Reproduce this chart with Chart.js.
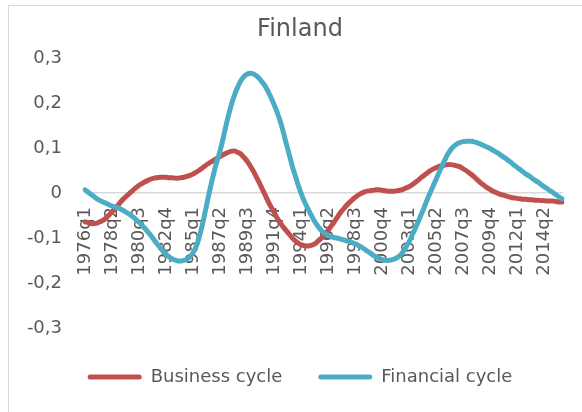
<!DOCTYPE html>
<html><head><meta charset="utf-8">
<script src="https://cdn.jsdelivr.net/npm/chart.js@4.4.0/dist/chart.umd.min.js"></script>
<style>
html,body{margin:0;padding:0;background:#fff;overflow:hidden;width:582px;height:412px;}
#frame{position:absolute;left:8px;top:5px;width:640px;height:460px;border:1px solid #d9d9d9;box-sizing:border-box;}
#wrap{position:absolute;left:0;top:0;width:582px;height:412px;}
</style></head><body>
<div id="frame"></div>
<div id="wrap"><canvas id="c" width="582" height="412"></canvas></div>
<script>
const categories = [];
for (let yr = 1976; yr <= 2015; yr++) { for (let k = 1; k <= 4; k++) categories.push(yr + 'q' + k); }

const tickLabels = ['1976q1','1978q2','1980q3','1982q4','1985q1','1987q2','1989q3','1991q4','1994q1','1996q2','1998q3','2000q4','2003q1','2005q2','2007q3','2009q4','2012q1','2014q2'];
const yTicks = [-0.3, -0.2, -0.1, 0, 0.1, 0.2, 0.3];

const businessCycle = [
-0.064,-0.066,-0.068,-0.068,-0.067,-0.064,-0.061,-0.056,-0.049,-0.042,
-0.034,-0.027,-0.019,-0.012,-0.006,0.000,0.006,0.012,0.017,0.021,
0.025,0.028,0.031,0.033,0.034,0.035,0.035,0.035,0.034,0.034,
0.033,0.033,0.034,0.035,0.037,0.039,0.042,0.046,0.050,0.055,
0.060,0.065,0.069,0.073,0.077,0.081,0.085,0.088,0.091,0.093,
0.093,0.090,0.086,0.079,0.071,0.061,0.050,0.037,0.024,0.010,
-0.004,-0.018,-0.031,-0.043,-0.055,-0.065,-0.075,-0.083,-0.091,-0.099,
-0.106,-0.111,-0.115,-0.117,-0.118,-0.117,-0.115,-0.111,-0.105,-0.099,
-0.091,-0.083,-0.074,-0.065,-0.055,-0.045,-0.037,-0.029,-0.022,-0.016,
-0.010,-0.005,-0.001,0.002,0.004,0.005,0.006,0.007,0.007,0.006,
0.005,0.004,0.004,0.004,0.005,0.006,0.008,0.011,0.014,0.018,
0.023,0.028,0.034,0.039,0.044,0.049,0.053,0.056,0.059,0.061,
0.062,0.063,0.063,0.062,0.060,0.058,0.054,0.050,0.045,0.040,
0.034,0.028,0.022,0.017,0.012,0.008,0.004,0.001,-0.002,-0.004,
-0.006,-0.008,-0.010,-0.011,-0.012,-0.013,-0.014,-0.014,-0.015,-0.015,
-0.016,-0.016,-0.017,-0.017,-0.018,-0.018,-0.018,-0.019,-0.020,-0.020
];

const financialCycle = [
0.007,0.002,-0.003,-0.008,-0.013,-0.017,-0.020,-0.023,-0.026,-0.029,
-0.031,-0.033,-0.036,-0.040,-0.044,-0.048,-0.053,-0.059,-0.065,-0.072,
-0.079,-0.087,-0.095,-0.104,-0.113,-0.121,-0.129,-0.136,-0.142,-0.146,
-0.149,-0.151,-0.151,-0.150,-0.147,-0.142,-0.133,-0.120,-0.100,-0.074,
-0.044,-0.012,0.018,0.046,0.071,0.093,0.120,0.150,0.177,0.201,
0.221,0.237,0.250,0.259,0.264,0.266,0.265,0.261,0.255,0.247,
0.238,0.226,0.212,0.197,0.180,0.161,0.138,0.112,0.087,0.062,
0.040,0.019,0.000,-0.017,-0.031,-0.044,-0.057,-0.068,-0.077,-0.085,
-0.090,-0.094,-0.097,-0.099,-0.100,-0.102,-0.104,-0.106,-0.108,-0.110,
-0.113,-0.116,-0.120,-0.124,-0.129,-0.133,-0.138,-0.142,-0.145,-0.148,
-0.149,-0.150,-0.149,-0.147,-0.144,-0.139,-0.131,-0.120,-0.109,-0.094,
-0.080,-0.065,-0.049,-0.033,-0.016,0.000,0.015,0.030,0.045,0.060,
0.074,0.087,0.097,0.104,0.109,0.112,0.114,0.115,0.115,0.115,
0.113,0.111,0.108,0.105,0.102,0.099,0.095,0.091,0.087,0.082,
0.078,0.073,0.068,0.062,0.057,0.052,0.047,0.042,0.038,0.033,
0.028,0.024,0.019,0.014,0.010,0.005,0.001,-0.004,-0.009,-0.013
];

const FONT = 'DejaVu Sans';
const TXT = '#595959';

new Chart(document.getElementById('c'), {
  type: 'line',
  data: {
    labels: categories,
    datasets: [
      { label: 'Business cycle', data: businessCycle, borderColor: '#C0504D', backgroundColor: '#C0504D',
        borderWidth: 5, pointRadius: 0, tension: 0.4, borderCapStyle: 'round', borderJoinStyle: 'round', fill: false, order: 1 },
      { label: 'Financial cycle', data: financialCycle, borderColor: '#4BACC6', backgroundColor: '#4BACC6',
        borderWidth: 5, pointRadius: 0, tension: 0.4, borderCapStyle: 'round', borderJoinStyle: 'round', fill: false, order: 0 }
    ]
  },
  options: {
    responsive: false,
    animation: false,
    devicePixelRatio: 1,
    layout: { padding: { left: 18, right: 0, top: 0, bottom: 16 } },
    plugins: {
      title: { display: true, text: 'Finland', color: TXT, font: { family: FONT, size: 24, weight: 'normal' },
        padding: { top: 15.6, bottom: 13.6 } },
      legend: { position: 'bottom',
        labels: { boxWidth: 54, boxHeight: 5, padding: 36, color: TXT, font: { family: FONT, size: 18 },
          useBorderRadius: true, borderRadius: 2.5,
          generateLabels: (chart) => chart.data.datasets.map((d, i) => ({
            text: d.label, fillStyle: d.borderColor, strokeStyle: d.borderColor, lineWidth: 0,
            datasetIndex: i, hidden: false, fontColor: TXT, borderRadius: 2.5 })) } },
      tooltip: { enabled: false }
    },
    scales: {
      x: {
        type: 'category',
        position: { y: 0 },
        grid: { display: false, drawTicks: false, tickLength: 0 },
        border: { display: true, color: '#d9d9d9', width: 1.5 },
        afterFit: (s) => { s.paddingLeft = 0; s.paddingRight = 0; },
        ticks: { autoSkip: false, maxRotation: 90, minRotation: 90, padding: 14, color: TXT,
          font: { family: FONT, size: 18 },
          callback: function (value) { const l = this.getLabelForValue(value); return tickLabels.includes(l) ? l : ''; } }
      },
      y: {
        position: 'left',
        min: -0.309, max: 0.3,
        afterBuildTicks: (s) => { s.ticks = yTicks.map(v => ({ value: v })); },
        afterFit: (s) => { s.width = 67; },
        grid: { display: false, drawTicks: false },
        border: { display: false },
        ticks: { padding: 23, color: TXT, font: { family: FONT, size: 18 },
          callback: (v) => (v === 0 ? '0' : v.toFixed(1).replace('.', ',')) }
      },
      yR: {
        position: 'right',
        display: true,
        grid: { display: false, drawTicks: false },
        border: { display: false },
        ticks: { display: false },
        afterFit: (s) => { s.width = 20; }
      }
    }
  }
});
</script>
</body></html>
